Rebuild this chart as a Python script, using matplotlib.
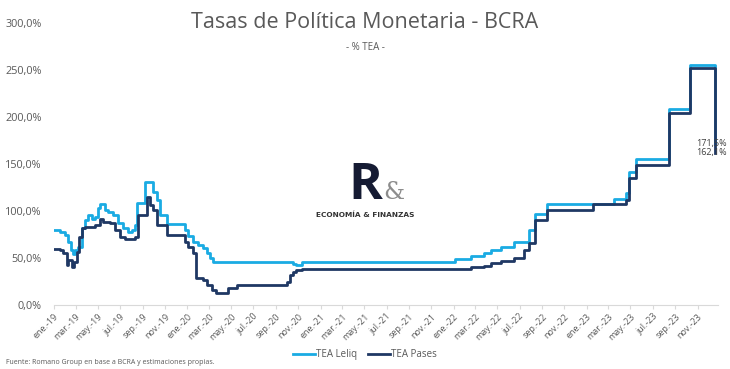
import matplotlib
matplotlib.use("Agg")
import matplotlib.pyplot as plt
import matplotlib.dates as mdates
import matplotlib.ticker as mticker
import pandas as pd

# TEA Leliq (% TEA) - fechas de cambio y valor
leliq_fechas = [
    "2019-01-01", "2019-01-17", "2019-01-31", "2019-02-08", "2019-02-17", "2019-02-22",
    "2019-02-28", "2019-03-08", "2019-03-19", "2019-03-27", "2019-04-04", "2019-04-15",
    "2019-04-23", "2019-05-02", "2019-05-07", "2019-05-21", "2019-05-29", "2019-06-12",
    "2019-06-25", "2019-07-09", "2019-07-23", "2019-08-03", "2019-08-11", "2019-08-17",
    "2019-09-08", "2019-09-29", "2019-10-10", "2019-10-19", "2019-11-07", "2019-12-26",
    "2020-01-03", "2020-01-17", "2020-01-31", "2020-02-14", "2020-02-25", "2020-03-04",
    "2020-03-12", "2020-10-17", "2020-10-26", "2020-11-12", "2022-01-06", "2022-02-17",
    "2022-03-24", "2022-04-14", "2022-05-12", "2022-06-16", "2022-07-28", "2022-08-11",
    "2022-09-15", "2023-03-16", "2023-04-20", "2023-04-27", "2023-05-15", "2023-08-14",
    "2023-10-12", "2023-12-18", "2023-12-20",
]
leliq_tea = [
    80, 78, 74, 67, 58, 54,
    58, 62, 82, 90, 96, 92,
    94, 103, 107, 101, 99, 96,
    87, 82, 78, 80, 85, 108,
    131, 120, 112, 96, 86, 80,
    73, 67, 64, 61, 55, 50,
    46, 44, 43, 45.6, 48.5, 52,
    55, 59, 62, 67, 80, 97,
    107, 113, 119, 141, 155, 209,
    255, 171.5, 171.5,
]

# TEA Pases (% TEA)
pases_fechas = [
    "2019-01-01", "2019-01-17", "2019-01-26", "2019-02-06", "2019-02-08", "2019-02-19",
    "2019-02-25", "2019-03-05", "2019-03-11", "2019-03-19", "2019-03-27", "2019-04-23",
    "2019-05-07", "2019-05-15", "2019-06-04", "2019-06-17", "2019-07-01", "2019-07-15",
    "2019-08-11", "2019-08-19", "2019-09-13", "2019-09-21", "2019-09-29", "2019-10-10",
    "2019-11-07", "2019-12-26", "2020-01-03", "2020-01-17", "2020-01-25", "2020-02-14",
    "2020-02-25", "2020-03-09", "2020-03-20", "2020-04-22", "2020-05-17", "2020-10-01",
    "2020-10-09", "2020-10-17", "2020-10-26", "2020-11-12", "2022-02-17", "2022-03-24",
    "2022-04-14", "2022-05-12", "2022-06-16", "2022-07-14", "2022-07-28", "2022-08-11",
    "2022-09-15", "2023-01-19", "2023-04-20", "2023-04-27", "2023-05-15", "2023-08-14",
    "2023-10-12", "2023-12-18", "2023-12-20",
]
pases_tea = [
    60, 58, 55, 43, 48, 40,
    46, 56, 72, 82, 83, 85,
    92, 88, 87, 80, 72, 70,
    72, 96, 115, 106, 101, 85,
    74, 67, 62, 55, 29, 27,
    21, 16, 13, 18, 21, 24,
    32, 35, 37, 38.5, 40, 42,
    44.5, 47, 50, 58, 66, 90,
    101, 107, 112, 135, 149, 204,
    252, 162.1, 162.1,
]

etiquetas_meses = ["ene", "feb", "mar", "abr", "may", "jun",
                   "jul", "ago", "sep", "oct", "nov", "dic"]

color_leliq = "#1AABE3"
color_pases = "#1F3864"
gris = "#595959"

leliq_x = pd.to_datetime(leliq_fechas)
pases_x = pd.to_datetime(pases_fechas)

fig = plt.figure(figsize=(7.3, 3.69), dpi=100)
ax = fig.add_axes([0.074, 0.1734, 0.91, 0.7643])

ax.step(leliq_x, leliq_tea, where="post", color=color_leliq, lw=2.0, label="TEA Leliq")
ax.step(pases_x, pases_tea, where="post", color=color_pases, lw=2.0, label="TEA Pases")

ax.set_ylim(0, 300)
ax.set_xlim(pd.Timestamp("2019-01-01"), pd.Timestamp("2023-12-28"))
ax.yaxis.set_major_locator(mticker.MultipleLocator(50))
ax.yaxis.set_major_formatter(mticker.FuncFormatter(lambda v, p: f"{v:.1f}%".replace(".", ",")))

ax.xaxis.set_major_locator(mdates.MonthLocator(bymonth=[1, 3, 5, 7, 9, 11]))
ax.xaxis.set_major_formatter(mticker.FuncFormatter(
    lambda v, p: f"{etiquetas_meses[mdates.num2date(v).month - 1]}.-{mdates.num2date(v).year % 100:02d}"))

for lab in ax.get_xticklabels():
    lab.set_rotation(45)
    lab.set_ha("right")
    lab.set_rotation_mode("anchor")
    lab.set_family("Open Sans")

for lab in ax.get_yticklabels():
    lab.set_family("Open Sans")

ax.tick_params(axis="x", colors="#d9d9d9", labelcolor=gris, labelsize=6.5, length=3, pad=2)
ax.tick_params(axis="y", length=0, labelcolor=gris, labelsize=7.8, pad=9)

for s in ["top", "right", "left"]:
    ax.spines[s].set_visible(False)
ax.spines["bottom"].set_color("#d9d9d9")

# etiquetas de los ultimos valores
ax.annotate(f"{leliq_tea[-1]:.1f}%".replace(".", ","), (leliq_x[-1], leliq_tea[-1]),
            xytext=(-3, 0), textcoords="offset points",
            ha="center", va="center", fontsize=6.5, color="#404040", family="Open Sans")
ax.annotate(f"{pases_tea[-1]:.1f}%".replace(".", ","), (pases_x[-1], pases_tea[-1]),
            xytext=(-3, 0), textcoords="offset points",
            ha="center", va="center", fontsize=6.5, color="#404040", family="Open Sans")

# titulos
fig.text(0.5, 0.94, "Tasas de Política Monetaria - BCRA", ha="center", va="center",
         fontsize=15.5, color=gris, family="Open Sans")
fig.text(0.5, 0.87, "- % TEA -", ha="center", va="center", fontsize=7, color=gris,
         family="Open Sans")

# logo
fig.text(0.500, 0.462, "R", ha="center", va="baseline", fontsize=37, fontweight="bold",
         color="#151B33", family="Open Sans")
fig.text(0.539, 0.462, "&", ha="center", va="baseline", fontsize=17,
         color="#8c8c8c", family="DejaVu Serif")
fig.text(0.5, 0.418, "ECONOMÍA & FINANZAS", ha="center", va="center", fontsize=5.3,
         fontweight="bold", color="#333333")

leg = ax.legend(loc="center", bbox_to_anchor=(0.5, 0.038), bbox_transform=fig.transFigure,
                ncol=2, frameon=False, handlelength=2.2, handletextpad=0.1,
                columnspacing=1.2, prop={"family": "Open Sans", "size": 7})
for t in leg.get_texts():
    t.set_color(gris)

fig.text(0.008, 0.017, "Fuente: Romano Group en base a BCRA y estimaciones propias.",
         ha="left", va="center", fontsize=5, color=gris, family="Open Sans")

fig.savefig("out.png", dpi=100)
